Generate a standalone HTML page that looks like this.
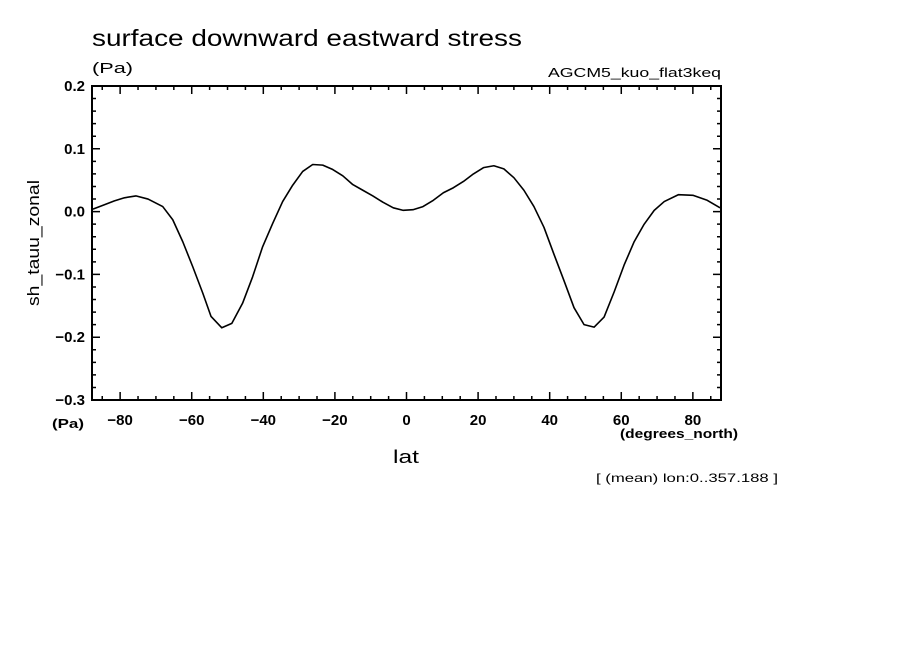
<!DOCTYPE html>
<html><head><meta charset="utf-8"><style>body{margin:0;background:#fff}svg{display:block}</style></head>
<body>
<svg id="chart" width="904" height="654" xmlns="http://www.w3.org/2000/svg" font-family="Liberation Sans, sans-serif">
<rect width="904" height="654" fill="#fff"/>
<text x="92" y="46" font-size="23" textLength="430" lengthAdjust="spacingAndGlyphs">surface downward eastward stress</text>
<text x="92" y="73" font-size="15" textLength="41" lengthAdjust="spacingAndGlyphs">(Pa)</text>
<text x="721" y="77" font-size="13" text-anchor="end" textLength="173" lengthAdjust="spacingAndGlyphs">AGCM5_kuo_flat3keq</text>
<g id="axes"></g>
<text transform="translate(39,243) rotate(-90)" font-size="17" text-anchor="middle" textLength="126" lengthAdjust="spacingAndGlyphs">sh_tauu_zonal</text>
<text x="52" y="428" font-size="13" font-weight="bold" textLength="32" lengthAdjust="spacingAndGlyphs">(Pa)</text>
<text x="620" y="438" font-size="13" font-weight="bold" textLength="118" lengthAdjust="spacingAndGlyphs">(degrees_north)</text>
<text x="406" y="463" font-size="18" text-anchor="middle" textLength="26" lengthAdjust="spacingAndGlyphs">lat</text>
<text x="596" y="482" font-size="12" textLength="182" lengthAdjust="spacingAndGlyphs">[ (mean) lon:0..357.188 ]</text>
</svg>
<script>
const lats=[-87.6,-84.4,-81.6,-78.8,-75.6,-72.2,-68.1,-65.3,-62.5,-59.7,-56.9,-54.6,-51.6,-48.8,-45.8,-43,-40.2,-37.4,-34.6,-31.8,-29,-26.2,-23.4,-20.6,-17.8,-15,-12.2,-9.4,-6.6,-3.7,-0.9,1.8,4.6,7.5,10.3,13.1,15.9,18.7,21.5,24.4,27.2,30,32.8,35.6,38.4,41.2,44,46.8,49.6,52.4,55.2,58,60.8,63.6,66.4,69.2,72,76,80,84,87.6];
const vals=[0.004,0.011,0.017,0.022,0.025,0.02,0.008,-0.013,-0.048,-0.088,-0.13,-0.167,-0.185,-0.178,-0.146,-0.104,-0.056,-0.019,0.016,0.042,0.064,0.075,0.074,0.067,0.057,0.043,0.034,0.025,0.015,0.006,0.002,0.003,0.008,0.018,0.03,0.038,0.048,0.06,0.07,0.073,0.068,0.054,0.034,0.008,-0.025,-0.068,-0.11,-0.153,-0.18,-0.184,-0.168,-0.128,-0.085,-0.048,-0.02,0.002,0.016,0.027,0.026,0.018,0.006];
const xTicks=[-80,-60,-40,-20,0,20,40,60,80];
const yTicks=[0.2,0.1,0.0,-0.1,-0.2,-0.3];
const yTickLabels=["0.2","0.1","0.0","\u22120.1","\u22120.2","\u22120.3"];
const X0=92,X1=721,Y0=86,Y1=400,LMIN=-87.86,LMAX=87.86,VMIN=-0.3,VMAX=0.2;
const sx=v=>X0+(v-LMIN)/(LMAX-LMIN)*(X1-X0);
const sy=v=>Y1-(v-VMIN)/(VMAX-VMIN)*(Y1-Y0);
const NS="http://www.w3.org/2000/svg";
const g=document.getElementById('axes');
function mk(t,a){const e=document.createElementNS(NS,t);for(const k in a)e.setAttribute(k,a[k]);g.appendChild(e);return e;}
let d='';
for(let v=-85;v<=85;v+=5){const x=sx(v),L=(v%20===0)?8:4;d+=`M${x},${Y1}v${-L}M${x},${Y0}v${L}`;}
for(let i=-15;i<=10;i++){const v=i*0.02,y=sy(v),L=(i%5===0)?8:4;d+=`M${X0},${y}h${L}M${X1},${y}h${-L}`;}
const tk=mk('path',{d:d,stroke:'#000','stroke-width':1.5,fill:'none'});


const fr=mk('rect',{x:X0,y:Y0,width:X1-X0,height:Y1-Y0,fill:'none',stroke:'#000','stroke-width':2});


xTicks.forEach(v=>{const t=mk('text',{x:sx(v),y:Y1+25,'font-size':15,'font-weight':'bold','text-anchor':'middle'});t.textContent=v<0?'\u2212'+(-v):String(v);

});
yTicks.forEach((v,i)=>{const t=mk('text',{x:X0-7,y:sy(v)+5,'font-size':15,'font-weight':'bold','text-anchor':'end'});t.textContent=yTickLabels[i];

});
const p=mk('polyline',{points:lats.map((l,i)=>sx(l)+','+sy(vals[i])).join(' '),fill:'none',stroke:'#000','stroke-width':1.6,'stroke-linejoin':'round'});


</script>
</body></html>
